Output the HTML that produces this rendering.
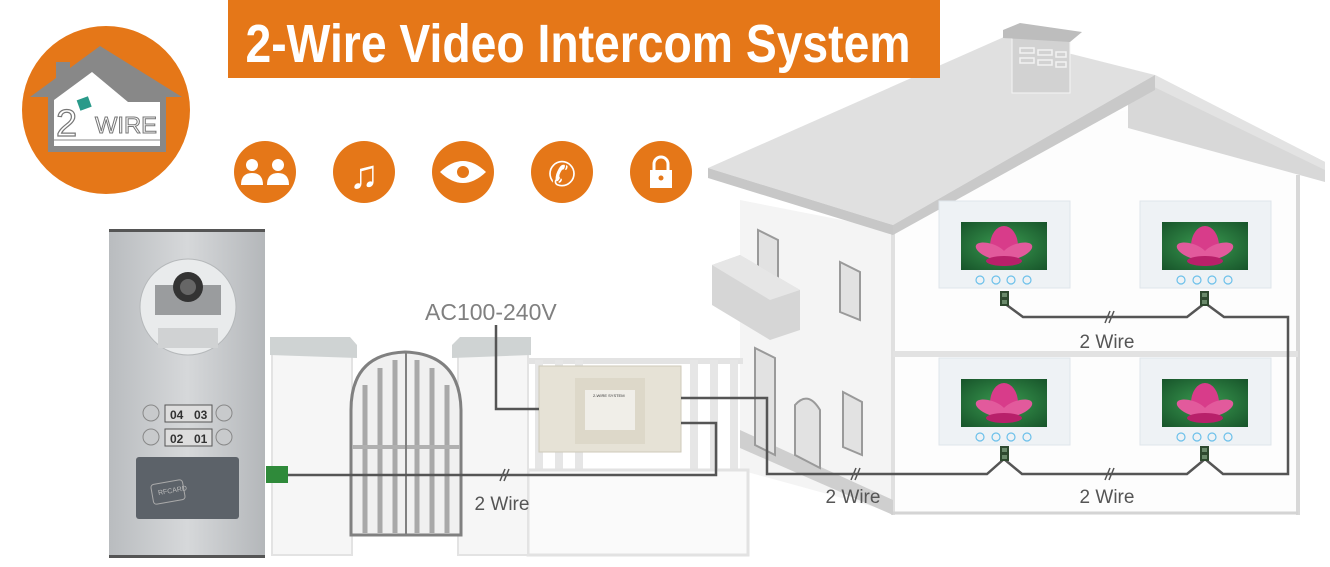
<!DOCTYPE html>
<html><head><meta charset="utf-8"><style>
html,body{margin:0;padding:0;background:#fff;}
svg{display:block;}
text{font-family:"Liberation Sans",sans-serif;}
</style></head><body>
<svg width="1330" height="567" viewBox="0 0 1330 567" xmlns="http://www.w3.org/2000/svg">
<defs>
<linearGradient id="steel" x1="0" y1="0" x2="1" y2="0">
<stop offset="0" stop-color="#b9bcbf"/><stop offset="0.5" stop-color="#d6d8da"/><stop offset="1" stop-color="#b4b7ba"/></linearGradient>
<radialGradient id="leaf" cx="0.5" cy="0.5" r="0.7"><stop offset="0" stop-color="#3a9a50"/><stop offset="1" stop-color="#17542a"/></radialGradient>
<g id="mon">
<rect x="0" y="0" width="131" height="87" fill="#eef2f5" stroke="#dfe5ea"/>
<rect x="22" y="21" width="86" height="48" fill="url(#leaf)"/>
<ellipse cx="65" cy="45" rx="14" ry="20" fill="#d83c8a"/>
<ellipse cx="52" cy="50" rx="16" ry="7" fill="#e25a9c" transform="rotate(20 52 50)"/>
<ellipse cx="78" cy="50" rx="16" ry="7" fill="#e25a9c" transform="rotate(-20 78 50)"/>
<ellipse cx="65" cy="60" rx="18" ry="5" fill="#b8206a"/>
<g fill="none" stroke="#6cc0ea" stroke-width="1.2"><circle cx="41" cy="79" r="4"/><circle cx="57" cy="79" r="4"/><circle cx="72" cy="79" r="4"/><circle cx="88" cy="79" r="4"/></g>
</g>
<g id="term"><rect x="0" y="0" width="9" height="15" fill="#2f4a2f"/><rect x="2" y="2" width="5" height="4" fill="#6a8a6a"/><rect x="2" y="9" width="5" height="4" fill="#6a8a6a"/></g>
</defs>

<!-- House -->
<polygon points="740,200 893,230 893,512 740,470" fill="#f4f4f4"/>
<polygon points="893,150 1128,110 1300,175 1300,515 893,515" fill="#fdfdfd"/>
<line x1="1298" y1="175" x2="1298" y2="515" stroke="#d8d8d8" stroke-width="4"/>
<line x1="893" y1="230" x2="893" y2="515" stroke="#e0e0e0" stroke-width="4"/>
<rect x="893" y="351" width="405" height="6" fill="#e2e2e2"/>
<line x1="893" y1="513" x2="1298" y2="513" stroke="#d4d4d4" stroke-width="3"/>
<polygon points="740,430 893,500 893,515 740,448" fill="#cfcfcf"/>
<g fill="#e2e2e2" stroke="#9a9a9a" stroke-width="2">
<polygon points="758,230 778,240 778,330 758,320"/>
<polygon points="840,262 860,272 860,320 840,312"/>
<polygon points="755,348 775,358 775,455 755,445"/>
<polygon points="843,392 862,402 862,455 843,447"/>
<path d="M795,455 V405 Q808,390 820,410 V468 Z"/>
</g>
<polygon points="712,265 740,255 800,290 800,330 770,340 712,305" fill="#d6d6d6"/>
<polygon points="712,265 740,255 800,290 770,300" fill="#e6e6e6"/>
<polygon points="1128,100 1155,75 1325,162 1325,182 1128,128" fill="#d8d8d8"/>
<polygon points="1155,75 1325,162 1325,170 1150,85" fill="#e3e3e3"/>
<polygon points="708,168 1004,37 1155,75 893,225" fill="#e0e0e0"/>
<polygon points="708,168 893,225 893,235 708,178" fill="#c7c7c7"/>
<polygon points="893,225 1155,75 1155,90 893,235" fill="#c9c9c9"/>
<rect x="1012" y="35" width="58" height="58" fill="#d2d2d2" stroke="#f5f5f5"/>
<polygon points="1003,30 1020,23 1082,32 1070,42 1003,38" fill="#bdbdbd"/>
<g fill="none" stroke="#f2f2f2" stroke-width="1.5"><rect x="1020" y="48" width="14" height="5"/><rect x="1038" y="50" width="14" height="5"/><rect x="1056" y="52" width="10" height="5"/><rect x="1020" y="58" width="14" height="5"/><rect x="1038" y="60" width="14" height="5"/><rect x="1056" y="62" width="10" height="5"/></g>

<use href="#mon" x="939" y="201"/>
<use href="#mon" x="1140" y="201"/>
<use href="#mon" x="939" y="358"/>
<use href="#mon" x="1140" y="358"/>

<!-- Banner -->
<rect x="228" y="0" width="712" height="78" fill="#e57718"/>
<text x="578" y="62" text-anchor="middle" fill="#fff" font-size="54" font-weight="bold" textLength="665" lengthAdjust="spacingAndGlyphs" font-family="Liberation Sans Narrow, Liberation Sans, sans-serif">2-Wire Video Intercom System</text>

<!-- Logo -->
<circle cx="106" cy="110" r="84" fill="#e57718"/>
<polygon points="30,97 56,78 56,62 70,62 70,68 100,46 182,97 166,97 166,152 48,152 48,97" fill="#888"/>
<polygon points="54,100 92,72 128,102 160,102 160,146 54,146" fill="#fff"/>
<line x1="54" y1="140" x2="160" y2="140" stroke="#888" stroke-width="1"/>
<rect x="78" y="98" width="12" height="11" fill="#2a9a8a" transform="rotate(-20 84 103)"/>
<text x="56" y="136" font-size="38" fill="#fff" stroke="#777" stroke-width="1.2">2</text>
<text x="95" y="133" font-size="23" fill="#fff" stroke="#777" stroke-width="1" textLength="62" lengthAdjust="spacingAndGlyphs">WIRE</text>

<!-- icons -->
<g fill="#e57718"><circle cx="265" cy="172" r="31"/><circle cx="364" cy="172" r="31"/><circle cx="463" cy="172" r="31"/><circle cx="562" cy="172" r="31"/><circle cx="661" cy="172" r="31"/></g>
<g fill="#fff">
<circle cx="252" cy="165" r="6"/><path d="M241,185 q0,-12 11,-12 q11,0 11,12z"/>
<circle cx="278" cy="165" r="6"/><path d="M267,185 q0,-12 11,-12 q11,0 11,12z"/>
<text x="364" y="188" text-anchor="middle" font-size="40" font-family="DejaVu Sans,sans-serif">♫</text>
<path d="M440,172 Q463,150 486,172 Q463,194 440,172z"/>
<text x="562" y="186" text-anchor="middle" font-size="34" font-family="DejaVu Sans,sans-serif">✆</text>
<rect x="650" y="170" width="22" height="18"/>
</g>
<circle cx="463" cy="172" r="6" fill="#e57718"/>
<path d="M654,171 v-7 a7,7 0 0 1 14,0 v7" fill="none" stroke="#fff" stroke-width="3"/>
<circle cx="661" cy="178" r="2.5" fill="#e57718"/>

<!-- fence -->
<rect x="528" y="358" width="215" height="6" fill="#e3e3e3"/>
<g fill="#e6e6e6"><rect x="535" y="360" width="8" height="110"/><rect x="555" y="360" width="8" height="110"/><rect x="575" y="360" width="8" height="110"/><rect x="690" y="360" width="8" height="110"/><rect x="710" y="360" width="8" height="110"/><rect x="730" y="360" width="8" height="110"/></g>
<rect x="528" y="470" width="220" height="85" fill="#fafafa" stroke="#e2e2e2" stroke-width="3"/>
<rect x="272" y="350" width="80" height="205" fill="#f6f6f6" stroke="#e3e3e3" stroke-width="2"/>
<polygon points="270,337 350,337 357,345 357,358 270,355" fill="#cfd3d3"/>
<rect x="458" y="350" width="70" height="205" fill="#f6f6f6" stroke="#e3e3e3" stroke-width="2"/>
<polygon points="452,345 460,337 531,337 531,355 452,358" fill="#cfd3d3"/>
<path d="M351,535 V410 Q351,354 405,352 Q460,354 461,410 V535 Z" fill="#f0f0f0" stroke="#808080" stroke-width="3"/>
<g stroke="#a8a8a8" stroke-width="5"><line x1="365" y1="385" x2="365" y2="533"/><line x1="380" y1="368" x2="380" y2="533"/><line x1="395" y1="360" x2="395" y2="533"/><line x1="417" y1="360" x2="417" y2="533"/><line x1="432" y1="368" x2="432" y2="533"/><line x1="447" y1="385" x2="447" y2="533"/></g>
<line x1="352" y1="447" x2="460" y2="447" stroke="#b0b0b0" stroke-width="4"/>
<line x1="406" y1="352" x2="406" y2="535" stroke="#808080" stroke-width="2"/>

<!-- door panel -->
<rect x="109" y="231" width="156" height="326" fill="url(#steel)"/>
<rect x="109" y="229" width="156" height="3" fill="#555"/>
<rect x="109" y="555" width="156" height="3" fill="#555"/>
<circle cx="188" cy="307" r="48" fill="#e9ebec" stroke="#b5b8ba"/>
<rect x="155" y="285" width="66" height="30" fill="#9a9c9e"/>
<circle cx="188" cy="287" r="15" fill="#333"/><circle cx="188" cy="287" r="8" fill="#666"/>
<rect x="158" y="328" width="60" height="20" fill="#d0d2d3"/>
<g fill="#c8cacc" stroke="#888"><circle cx="151" cy="413" r="8"/><circle cx="224" cy="413" r="8"/><circle cx="151" cy="437" r="8"/><circle cx="224" cy="437" r="8"/></g>
<rect x="165" y="405" width="47" height="17" fill="#ddd" stroke="#555"/>
<rect x="165" y="429" width="47" height="17" fill="#ddd" stroke="#555"/>
<text x="170" y="419" font-size="12" font-weight="bold" fill="#333">04</text><text x="194" y="419" font-size="12" font-weight="bold" fill="#333">03</text>
<text x="170" y="443" font-size="12" font-weight="bold" fill="#333">02</text><text x="194" y="443" font-size="12" font-weight="bold" fill="#333">01</text>
<rect x="136" y="457" width="103" height="62" rx="3" fill="#5c6269"/>
<text x="158" y="494" font-size="7" fill="#bbb" transform="rotate(-10 165 492)">RFCARD</text>
<rect x="152" y="482" width="32" height="20" rx="3" fill="none" stroke="#aaa" transform="rotate(-10 168 492)"/>

<!-- power supply -->
<rect x="539" y="366" width="142" height="86" fill="#e6e2d6" stroke="#cfcab9"/>
<rect x="575" y="378" width="70" height="66" fill="#ddd8c9"/>
<rect x="585" y="390" width="50" height="40" fill="#f0eee8"/>
<text x="593" y="397" font-size="4" fill="#333">2-WIRE SYSTEM</text>

<g fill="none" stroke="#555" stroke-width="2.5">
<path d="M288,475 H716 V423 H681"/>
<path d="M496,325 V409 H539"/>
<path d="M681,398 H767 V474 H987 L1004,459 L1022,474 H1187 L1205,459 L1223,474 H1288 V317 H1224 L1205,303 L1187,317 H1023 L1004,303"/>
</g>
<g stroke="#555" stroke-width="1.5"><line x1="500" y1="481" x2="505" y2="469"/><line x1="504" y1="481" x2="509" y2="469"/>
<line x1="851" y1="480" x2="856" y2="468"/><line x1="855" y1="480" x2="860" y2="468"/>
<line x1="1105" y1="480" x2="1110" y2="468"/><line x1="1109" y1="480" x2="1114" y2="468"/>
<line x1="1105" y1="323" x2="1110" y2="311"/><line x1="1109" y1="323" x2="1114" y2="311"/></g>
<rect x="266" y="466" width="22" height="17" fill="#2f8a3a"/>
<use href="#term" x="1000" y="291"/><use href="#term" x="1200" y="291"/>
<use href="#term" x="1000" y="446"/><use href="#term" x="1200" y="446"/>

<text x="425" y="320" font-size="23" fill="#808080">AC100-240V</text>
<g font-size="19" fill="#555" text-anchor="middle">
<text x="502" y="510">2 Wire</text>
<text x="853" y="503">2 Wire</text>
<text x="1107" y="503">2 Wire</text>
<text x="1107" y="348">2 Wire</text>
</g>
</svg>
</body></html>
